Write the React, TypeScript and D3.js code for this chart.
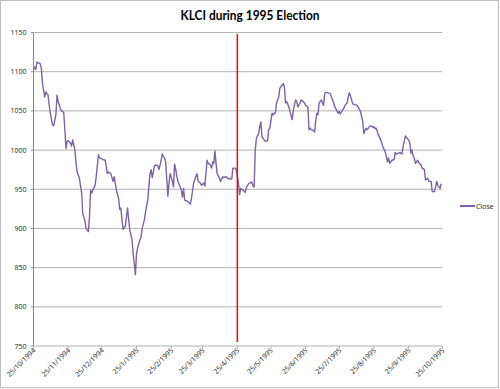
import React from 'react';
import * as d3 from 'd3';

// days after 25/10/1994 and KLCI close
const dayOffsets = [
  0, 1, 2, 3, 5, 6, 7, 8, 10, 11, 12, 13, 14, 15, 17, 18, 19, 20, 21, 22, 24, 25, 27, 28, 29, 30, 31, 33, 34, 35,
  37, 38, 39, 41, 42, 43, 44, 46, 47, 49, 50, 51, 52, 53, 55, 56, 58, 59, 62, 64, 65, 66, 67, 69, 71, 72, 73, 74, 76, 77,
  78, 79, 80, 82, 83, 84, 85, 86, 88, 89, 90, 91, 92, 93, 94, 96, 97, 99, 100, 102, 103, 104, 105, 106, 107, 108, 110, 111, 112, 114,
  115, 116, 117, 118, 119, 120, 121, 122, 124, 125, 126, 127, 128, 129, 131, 132, 133, 134, 135, 137, 138, 140, 141, 143, 144, 146, 147, 149, 150, 152,
  153, 155, 156, 158, 159, 160, 161, 162, 163, 164, 166, 167, 169, 170, 172, 173, 175, 176, 177, 178, 180, 181, 183, 184, 185, 187, 189, 190, 192, 193,
  195, 196, 197, 198, 199, 201, 202, 203, 204, 206, 207, 209, 210, 211, 213, 214, 216, 217, 219, 220, 222, 223, 224, 225, 226, 228, 229, 231, 232, 234,
  235, 236, 238, 239, 240, 242, 243, 245, 246, 247, 248, 250, 251, 252, 253, 254, 255, 256, 257, 259, 260, 261, 263, 265, 267, 268, 269, 271, 272, 273,
  274, 275, 277, 278, 280, 281, 282, 283, 285, 287, 289, 291, 292, 294, 295, 297, 298, 300, 301, 303, 304, 305, 306, 308, 310, 311, 312, 314, 315, 316,
  317, 318, 319, 320, 322, 323, 324, 326, 327, 329, 330, 332, 333, 335, 336, 337, 338, 339, 340, 341, 343, 344, 346, 347, 349, 350, 352, 353, 355, 356,
  358, 359, 360, 361, 363, 364,
];
const closes = [
  1103, 1106, 1103, 1112, 1111, 1110, 1104, 1085, 1068, 1074, 1072, 1070, 1057, 1047, 1032, 1031, 1038, 1045, 1070, 1062, 1053, 1050, 1048, 1026, 1002, 1011, 1012, 1009, 1005, 1013,
  1000, 983, 972, 964, 954, 945, 919, 909, 900, 896, 915, 949, 945, 949, 955, 966, 994, 990, 988, 987, 979, 970, 972, 970, 960, 966, 958, 949, 938, 924,
  926, 911, 899, 903, 915, 926, 911, 898, 885, 868, 855, 841, 868, 875, 881, 889, 900, 911, 921, 936, 953, 970, 975, 965, 972, 980, 981, 980, 975, 987,
  995, 992, 990, 985, 962, 941, 958, 970, 960, 953, 982, 975, 966, 960, 953, 949, 940, 951, 936, 935, 934, 931, 938, 958, 962, 970, 960, 958, 955, 958,
  954, 987, 983, 981, 977, 985, 983, 999, 983, 970, 964, 960, 966, 965, 966, 964, 963, 964, 963, 977, 977, 975, 958, 943, 951, 949, 946, 952, 957, 958,
  959, 954, 953, 1000, 1015, 1021, 1030, 1036, 1017, 1013, 1011, 1012, 1026, 1028, 1047, 1045, 1048, 1060, 1068, 1079, 1083, 1085, 1081, 1060, 1062, 1055, 1049, 1039, 1051, 1064,
  1062, 1055, 1060, 1064, 1063, 1060, 1057, 1055, 1026, 1028, 1026, 1025, 1023, 1038, 1047, 1045, 1060, 1062, 1064, 1057, 1072, 1074, 1073, 1072, 1064, 1060, 1055, 1050, 1047, 1049,
  1046, 1049, 1053, 1057, 1060, 1068, 1073, 1069, 1059, 1058, 1057, 1052, 1049, 1036, 1021, 1028, 1026, 1030, 1031, 1029, 1030, 1027, 1028, 1019, 1013, 1009, 1004, 998, 992, 985,
  990, 983, 985, 987, 988, 997, 995, 996, 997, 995, 1004, 1018, 1016, 1013, 1009, 996, 1000, 992, 990, 983, 987, 984, 981, 977, 975, 962, 964, 960, 960, 947,
  947, 953, 960, 955, 951, 957,
];

const yTicks = [750, 800, 850, 900, 950, 1000, 1050, 1100, 1150];
const xTickLabels = [
  '25/10/1994', '25/11/1994', '25/12/1994', '25/1/1995', '25/2/1995', '25/3/1995', '25/4/1995',
  '25/5/1995', '25/6/1995', '25/7/1995', '25/8/1995', '25/9/1995', '25/10/1995',
];
const title = 'KLCI during 1995 Election';
const seriesName = 'Close';
const electionDate = '25/4/1995';
const markerRange = [755, 1148];

const W = 500;
const H = 389;
const purple = '#7d62a4';
const font = "'Open Sans', 'DejaVu Sans', sans-serif";

const parse = d3.timeParse('%d/%m/%Y');
const start = parse(xTickLabels[0]) as Date;

export default function App() {
  const x = d3.scaleTime()
    .domain([start, parse(xTickLabels[xTickLabels.length - 1]) as Date])
    .range([33.5, 442.3]);
  const y = d3.scaleLinear().domain([750, 1150]).range([346, 32.5]);

  const points = dayOffsets.map((d, i) => ({ date: d3.timeDay.offset(start, d), v: closes[i] }));
  const line = d3.line<{ date: Date; v: number }>()
    .x(d => x(d.date))
    .y(d => y(d.v));

  const ex = x(parse(electionDate) as Date);

  return (
    <div style={{ position: 'absolute', left: 0, top: 0 }}>
      <svg width={W} height={H} style={{ display: 'block' }}>
        <rect x={0.5} y={0.5} width={W - 2} height={H - 2} fill="#fff" stroke="#bdbdbd" />
        <text x={250} y={20} textAnchor="middle" fontFamily="Lato, 'Open Sans', sans-serif" fontWeight="bold"
          fontSize={13.5} textLength={139} lengthAdjust="spacingAndGlyphs" fill="#000">{title}</text>

        {yTicks.map(t => (
          <g key={t}>
            {t > 750 && <line x1={33.5} x2={442.3} y1={y(t)} y2={y(t)} stroke="#b4b4b4" strokeWidth={1} />}
            <line x1={31} x2={33.5} y1={y(t)} y2={y(t)} stroke="#868686" />
            <text x={26.5} y={y(t) + 2.5} textAnchor="end" fontFamily={font} fontSize={7} fill="#222">{t}</text>
          </g>
        ))}

        <line x1={33.5} x2={33.5} y1={32.5} y2={346} stroke="#868686" />
        <line x1={33.5} x2={442.3} y1={346} y2={346} stroke="#b0b0b0" />

        {xTickLabels.map(l => {
          const px = x(parse(l) as Date);
          return (
            <g key={l}>
              <line x1={px} x2={px} y1={346} y2={349} stroke="#b0b0b0" />
              <text transform={`translate(${px + 2.5},${351}) rotate(-45)`} textAnchor="end"
                fontFamily={font} fontSize={7} fill="#222">{l}</text>
            </g>
          );
        })}

        <path d={line(points) ?? ''} fill="none" stroke={purple} strokeWidth={1.4} strokeLinejoin="round" />

        <line x1={ex} x2={ex} y1={y(markerRange[1])} y2={y(markerRange[0])} stroke="#ff0000" strokeWidth={1.5} />

        <line x1={460} x2={475} y1={206} y2={206} stroke={purple} strokeWidth={2} />
        <text x={476} y={208.5} fontFamily={font} fontSize={7} fill="#222">{seriesName}</text>
      </svg>
    </div>
  );
}
